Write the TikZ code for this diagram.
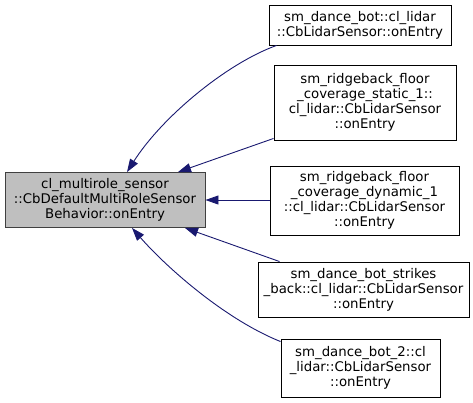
\documentclass[tikz,border=0pt]{standalone}
\usepackage{fontspec}
\setmainfont{DejaVu Sans}
\usepackage{tikz}
\usetikzlibrary{arrows.meta}
\definecolor{edgeblue}{HTML}{191970}
\tikzset{
  fn/.style={draw=black,fill=white,line width=0.9pt,align=center,inner sep=0pt,
    font=\fontsize{13.3}{15}\selectfont},
  fnmain/.style={fn,draw=black!75,fill=black!25},
  call/.style={draw=edgeblue,line width=0.9pt,-{Triangle[length=13pt,width=9pt]},edgeblue}
}

\begin{document}
\begin{tikzpicture}[x=1pt,y=-1pt]
    \useasboundingbox (0,0) rectangle (473,402);
    \node[fnmain,minimum width=200pt,minimum height=55pt] (0) at (105,200) {cl\_multirole\_sensor\\::CbDefaultMultiRoleSensor\\Behavior::onEntry};

    \node[fn,minimum width=182pt,minimum height=40pt] (1) at (360,25) {sm\_dance\_bot::cl\_lidar\\::CbLidarSensor::onEntry};
    \node[fn,minimum width=182pt,minimum height=75pt] (2) at (365,102.5) {sm\_ridgeback\_floor\\\_coverage\_static\_1::\\cl\_lidar::CbLidarSensor\\::onEntry};
    \node[fn,minimum width=189pt,minimum height=69pt] (3) at (364.5,200.5) {sm\_ridgeback\_floor\\\_coverage\_dynamic\_1\\::cl\_lidar::CbLidarSensor\\::onEntry};
    \node[fn,minimum width=211pt,minimum height=55pt] (4) at (363.5,289.5) {sm\_dance\_bot\_strikes\\\_back::cl\_lidar::CbLidarSensor\\::onEntry};
    \node[fn,minimum width=159pt,minimum height=58pt] (5) at (360.5,368) {sm\_dance\_bot\_2::cl\\\_lidar::CbLidarSensor\\::onEntry};

    \draw[call] ([xshift=8pt]1.south west) .. controls +(-50,18) and +(35,-55) .. ([xshift=22pt]0.north);
    \draw[call] ([yshift=2pt]2.south west) -- ([xshift=73pt]0.north);
    \draw[call] (3.west |- 0.east) -- (0.east);
    \draw[call] ([xshift=22pt]4.north west) -- ([xshift=80pt]0.south);
    \draw[call] ([yshift=-3pt]5.north west) .. controls +(-55,-22) and +(35,40) .. ([xshift=27pt]0.south);
\end{tikzpicture}
\end{document}
